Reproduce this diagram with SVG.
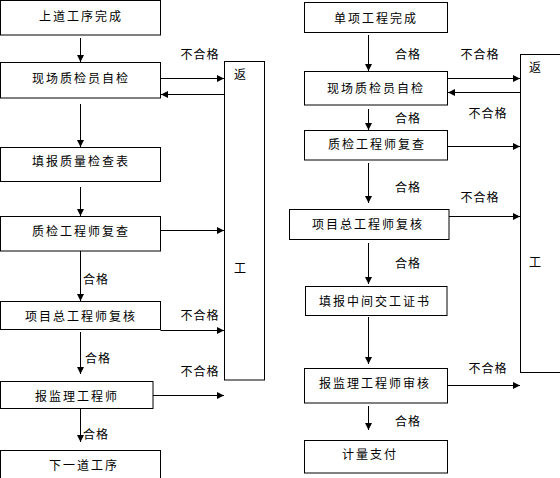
<svg xmlns="http://www.w3.org/2000/svg" width="560" height="478" viewBox="0 0 560 478">
<style>
rect{fill:#fff;stroke:#000;stroke-width:1}
line,polyline{stroke:#000;stroke-width:1;fill:none}
.a{marker-end:url(#ah)}
text{font-family:"Noto Sans CJK SC","Noto Sans",sans-serif;font-size:12px;fill:#000;text-anchor:middle;dominant-baseline:central;letter-spacing:2px}
.l{letter-spacing:1px}
</style>
<defs>
<marker id="ah" markerUnits="userSpaceOnUse" markerWidth="8" markerHeight="8" refX="7" refY="3.5" orient="auto">
<path d="M0,0 L7,3.5 L0,7 z" fill="#000"/>
</marker>
</defs>
<rect width="560" height="478" style="stroke:none"/>

<!-- left column nodes -->
<g id="L1"><rect x="0.5" y="0.5" width="160" height="34.5"/><text x="81" y="15">上道工序完成</text></g>
<g id="L2"><rect x="0.5" y="62.5" width="160" height="35.5"/><text x="81" y="77">现场质检员自检</text></g>
<g id="L3"><rect x="0.5" y="147.5" width="160" height="34"/><text x="81" y="160">填报质量检查表</text></g>
<g id="L4"><rect x="0.5" y="216.5" width="160" height="34.5"/><text x="81" y="230">质检工程师复查</text></g>
<g id="L5"><rect x="0.5" y="301.5" width="160" height="28"/><text x="81" y="315">项目总工程师复核</text></g>
<g id="L6"><rect x="0.5" y="381.5" width="152.5" height="27"/><text x="77" y="395">报监理工程师</text></g>
<g id="L7"><rect x="0.5" y="450.5" width="160" height="40"/><text x="84" y="464">下一道工序</text></g>
<g id="LR"><rect x="224.5" y="61.5" width="40" height="318.5"/><text x="241" y="73">返</text><text x="241" y="267">工</text></g>

<!-- right column nodes -->
<g id="R1"><rect x="304.5" y="2.5" width="143" height="30"/><text x="376" y="17">单项工程完成</text></g>
<g id="R2"><rect x="304.5" y="71.5" width="143" height="33.5"/><text x="376" y="87">现场质检员自检</text></g>
<g id="R3"><rect x="304.5" y="130.5" width="143" height="29.5"/><text x="377" y="143">质检工程师复查</text></g>
<g id="R4"><rect x="289.5" y="209.5" width="159.5" height="30"/><text x="368" y="223">项目总工程师复核</text></g>
<g id="R5"><rect x="305.5" y="286.5" width="141.5" height="29"/><text x="375" y="300">填报中间交工证书</text></g>
<g id="R6"><rect x="304.5" y="368.5" width="143" height="34.5"/><text x="375" y="382">报监理工程师审核</text></g>
<g id="R7"><rect x="304.5" y="440.5" width="143" height="32.5"/><text x="370" y="453">计量支付</text></g>
<g id="RR"><rect x="520.5" y="54.5" width="50" height="318"/><text x="536" y="66">返</text><text x="536" y="261">工</text></g>

<!-- connectors -->
<g id="connectors">
<line class="a" x1="80.5" y1="38" x2="80.5" y2="62"/>
<line class="a" x1="80.5" y1="104" x2="80.5" y2="147"/>
<line class="a" x1="80.5" y1="187" x2="80.5" y2="216"/>
<line class="a" x1="80.5" y1="251" x2="80.5" y2="301"/>
<line class="a" x1="80.5" y1="332" x2="80.5" y2="374"/>
<line class="a" x1="80.5" y1="409" x2="80.5" y2="442"/>
<line class="a" x1="160.5" y1="78.5" x2="224" y2="78.5"/>
<line class="a" x1="224.5" y1="94.5" x2="161" y2="94.5"/>
<line class="a" x1="160.5" y1="230.5" x2="224" y2="230.5"/>
<line class="a" x1="160.5" y1="330.5" x2="224" y2="330.5"/>
<line class="a" x1="153" y1="395.5" x2="224" y2="395.5"/>

<line class="a" x1="368.5" y1="35" x2="368.5" y2="71"/>
<line class="a" x1="368.5" y1="109" x2="368.5" y2="130"/>
<line class="a" x1="368.5" y1="163" x2="368.5" y2="203"/>
<line class="a" x1="368.5" y1="243" x2="368.5" y2="284"/>
<line class="a" x1="368.5" y1="317" x2="368.5" y2="364"/>
<line class="a" x1="368.5" y1="406" x2="368.5" y2="430"/>
<line class="a" x1="447.5" y1="78.5" x2="520" y2="78.5"/>
<line class="a" x1="520.5" y1="92.5" x2="448" y2="92.5"/>
<line class="a" x1="447.5" y1="146.5" x2="520" y2="146.5"/>
<line class="a" x1="449" y1="216.5" x2="520" y2="216.5"/>
<line class="a" x1="447.5" y1="385.5" x2="520" y2="385.5"/>

<text class="l" x="200" y="53">不合格</text>
<text class="l" x="200" y="314">不合格</text>
<text class="l" x="200" y="370">不合格</text>
<text class="l" x="96" y="278">合格</text>
<text class="l" x="98" y="357">合格</text>
<text class="l" x="96" y="433">合格</text>

<text class="l" x="408" y="53">合格</text>
<text class="l" x="408" y="117">合格</text>
<text class="l" x="408" y="186">合格</text>
<text class="l" x="408" y="262">合格</text>
<text class="l" x="408" y="420">合格</text>
<text class="l" x="480" y="53">不合格</text>
<text class="l" x="488" y="112">不合格</text>
<text class="l" x="480" y="196">不合格</text>
<text class="l" x="488" y="367">不合格</text>
</g>
</svg>
